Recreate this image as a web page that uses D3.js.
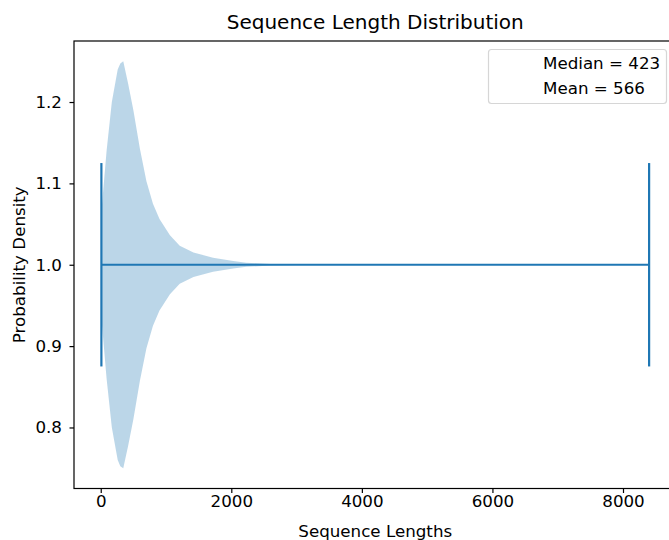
<!DOCTYPE html>
<html>
<head>
<meta charset="utf-8">
<script src="https://cdn.jsdelivr.net/npm/d3@7"></script>
<style>
  body { margin: 0; background: #fff; }
  svg { font-family: "DejaVu Sans", sans-serif; }
</style>
</head>
<body>
<svg id="chart"></svg>
<script>
// Sequence lengths where the density curve was read, and the density relative to its peak
const lengths = [10, 90, 170, 260, 300, 345, 420, 500, 600, 700, 800, 900, 1060, 1210, 1420, 1720, 2030, 2230, 2600, 3000, 4000, 6000, 8400];
const density = [0.26, 0.56, 0.80, 0.96, 0.99, 1.0, 0.89, 0.76, 0.57, 0.41, 0.30, 0.225, 0.145, 0.093, 0.06, 0.035, 0.018, 0.01, 0.004, 0.0015, 0, 0, 0];
const minLength = 10;
const maxLength = 8400;
const legendLabels = ["Median = 423", "Mean = 566"];
const xTicks = [0, 2000, 4000, 6000, 8000];
const yTicks = [0.8, 0.9, 1.0, 1.1, 1.2];

const W = 669, H = 540;
const margin = { top: 41, left: 74, right: -7.5, bottom: 51.5 };
const blue = "#1f77b4";
const fs = "16.7px";

const svg = d3.select("#chart").attr("width", W).attr("height", H);

// x limits follow matplotlib's 5% auto margin around min/max
const span = maxLength - minLength;
const x = d3.scaleLinear()
  .domain([minLength - 0.05 * span, maxLength + 0.05 * span])
  .range([margin.left, W - margin.right]);

const y = d3.scaleLinear()
  .domain([0.725, 1.275])
  .range([H - margin.bottom, margin.top]);

// violin half width scale (widths = 0.5)
const hw = d3.scaleLinear().domain([0, 1]).range([0, 0.25]);

const pts = lengths.map((l, i) => ({ l, d: density[i] }));

const area = d3.area()
  .x(d => x(d.l))
  .y0(d => y(1 - hw(d.d)))
  .y1(d => y(1 + hw(d.d)));

svg.append("path")
  .datum(pts)
  .attr("d", area)
  .attr("fill", blue)
  .attr("fill-opacity", 0.3);

// min / max bars and the horizontal bar
const lw = 2.2;
[minLength, maxLength].forEach(v => {
  svg.append("line")
    .attr("x1", x(v)).attr("x2", x(v))
    .attr("y1", y(0.875)).attr("y2", y(1.125))
    .attr("stroke", blue).attr("stroke-width", lw);
});
svg.append("line")
  .attr("x1", x(minLength)).attr("x2", x(maxLength))
  .attr("y1", y(1)).attr("y2", y(1))
  .attr("stroke", blue).attr("stroke-width", lw);

// axes
const xAxis = svg.append("g")
  .attr("transform", `translate(0,${H - margin.bottom})`)
  .call(d3.axisBottom(x).tickValues(xTicks).tickSize(4.5).tickPadding(2.5).tickFormat(d3.format("d")));
const yAxis = svg.append("g")
  .attr("transform", `translate(${margin.left},0)`)
  .call(d3.axisLeft(y).tickValues(yTicks).tickSize(4.5).tickPadding(7.5).tickFormat(d3.format(".1f")));

[xAxis, yAxis].forEach(g => {
  g.select(".domain").remove();
  g.selectAll(".tick line").attr("stroke", "#000").attr("stroke-width", 1.2);
  g.selectAll(".tick text").attr("fill", "#000").style("font-size", fs).style("font-family", "DejaVu Sans");
});

// spines
svg.append("rect")
  .attr("x", margin.left).attr("y", margin.top)
  .attr("width", x.range()[1] - margin.left)
  .attr("height", H - margin.bottom - margin.top)
  .attr("fill", "none").attr("stroke", "#000").attr("stroke-width", 1.2);

// labels
const cx = (margin.left + x.range()[1]) / 2;
svg.append("text")
  .attr("x", cx).attr("y", 29)
  .attr("text-anchor", "middle")
  .style("font-size", "20px")
  .text("Sequence Length Distribution");

svg.append("text")
  .attr("x", cx).attr("y", 537)
  .attr("text-anchor", "middle")
  .style("font-size", fs)
  .text("Sequence Lengths");

svg.append("text")
  .attr("transform", `translate(25,${(margin.top + H - margin.bottom) / 2}) rotate(-90)`)
  .attr("text-anchor", "middle")
  .style("font-size", fs)
  .text("Probability Density");

// legend with empty handles
const legend = svg.append("g");
legend.append("rect")
  .attr("x", 488.5).attr("y", 49.5)
  .attr("width", 178).attr("height", 54)
  .attr("rx", 3)
  .attr("fill", "#fff").attr("fill-opacity", 0.8)
  .attr("stroke", "#d6d6d6").attr("stroke-width", 1.2);
legend.selectAll("text.leg")
  .data(legendLabels)
  .enter().append("text")
  .attr("class", "leg")
  .attr("x", 543)
  .attr("y", (d, i) => 68.5 + i * 25.5)
  .style("font-size", fs)
  .text(d => d);
</script>
</body>
</html>
